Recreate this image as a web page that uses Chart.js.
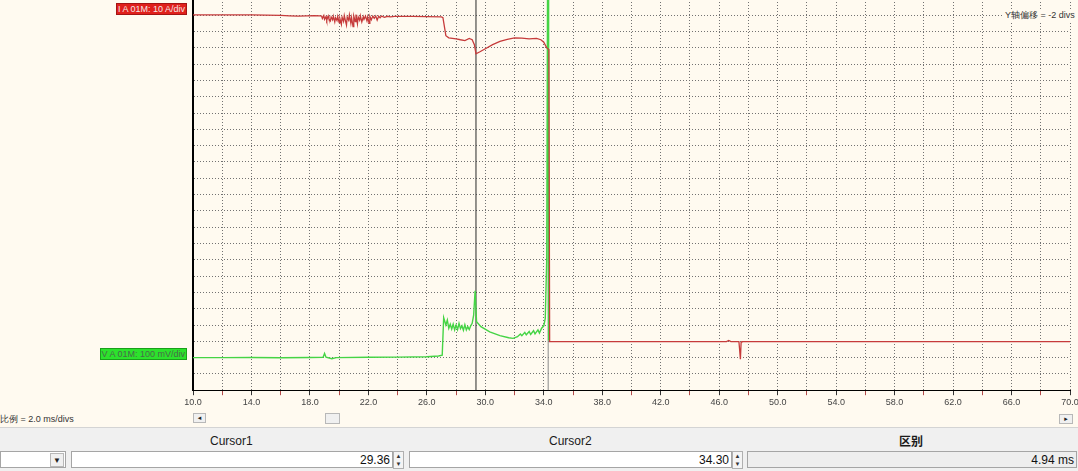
<!DOCTYPE html>
<html>
<head>
<meta charset="utf-8">
<script src="https://cdn.jsdelivr.net/npm/chart.js@4/dist/chart.umd.min.js"></script>
<style>
html,body{margin:0;padding:0;width:1078px;height:471px;overflow:hidden;background:#fffaf0;font-family:"Liberation Sans","DejaVu Sans",sans-serif;}
#wrap{position:absolute;left:0;top:-1px;width:1090px;height:413px;}
.abs{position:absolute;white-space:nowrap;}
.lblRed{left:116px;top:3px;width:68px;height:10px;background:#e0201c;border:1px solid #a31414;color:#f4e4e4;font-size:9px;line-height:10px;text-align:right;padding-right:1px;}
.lblGreen{left:100px;top:348px;width:84px;height:10px;background:#2ce22c;border:1px solid #1aa01a;color:#4a6a4a;font-size:9px;line-height:10px;text-align:right;padding-right:1px;}
.small{font-size:9px;color:#333;}
.panel{left:0;top:427px;width:1078px;height:44px;background:#f0f0f0;border-top:1px solid #d4d4d4;}
.hdr{font-size:12px;color:#1a1a1a;top:434px;}
.box{background:#fff;border:1px solid #a5a5a5;height:17px;top:451px;font-size:12px;line-height:17px;text-align:right;color:#111;box-sizing:border-box;padding-right:2px;}
.spin{top:451px;width:11px;height:18px;border:1px solid #b0b0b0;background:#f4f4f4;box-sizing:border-box;font-size:6px;line-height:8px;text-align:center;color:#333;}
.btn{background:#f0f0f0;border:1px solid #b8b8b8;box-sizing:border-box;font-size:7px;text-align:center;color:#222;}
</style>
</head>
<body>
<div id="wrap"><canvas id="c" width="1090" height="413"></canvas></div>

<div class="abs lblRed">I A 01M: 10 A/div</div>
<div class="abs lblGreen">V A 01M: 100 mV/div</div>
<div class="abs small" style="left:1004px;top:9px;background:#fffaf0;padding:0 1px;">Y轴偏移 = -2 divs</div>
<div class="abs small" style="left:0;top:413px;">比例 = 2.0 ms/divs</div>

<div class="abs btn" style="left:193px;top:413px;width:13px;height:10px;line-height:8px;">&#9666;</div>
<div class="abs btn" style="left:325px;top:413px;width:15px;height:11px;"></div>
<div class="abs btn" style="left:1059px;top:414px;width:14px;height:10px;line-height:8px;">&#9656;</div>

<div class="abs panel"></div>
<div class="abs hdr" style="left:210px;">Cursor1</div>
<div class="abs hdr" style="left:549px;">Cursor2</div>
<div class="abs hdr" style="left:899px;font-family:'Noto Sans CJK SC';font-weight:bold;top:432px;">区别</div>

<div class="abs box" style="left:0;width:66px;"></div>
<div class="abs btn" style="left:50px;top:453px;width:14px;height:14px;font-size:8px;line-height:14px;">&#9660;</div>
<div class="abs box" style="left:71px;width:322px;" id="c1"></div>
<div class="abs spin" style="left:393px;">&#9650;<br>&#9660;</div>
<div class="abs box" style="left:409px;width:323px;" id="c2"></div>
<div class="abs spin" style="left:732px;">&#9650;<br>&#9660;</div>
<div class="abs box" style="left:747px;width:330px;background:#eeeeee;" id="c3"></div>

<script>
// ---- data (time in ms, level in screen divisions from bottom) ----
const redTime = [10.0,12.0,14.0,16.0,16.6,17.2,17.8,18.3,18.7,
 18.8,18.85,18.95,19.0,19.1,19.15,19.25,19.3,19.4,19.45,19.55,19.6,19.7,19.75,19.85,19.9,20.0,20.05,20.15,20.2,20.3,20.35,20.45,20.5,20.55,20.65,20.7,20.8,20.85,20.95,21.0,21.1,21.15,21.25,21.3,21.4,21.45,21.55,21.65,21.7,21.8,21.9,21.95,22.05,22.1,22.2,22.3,22.4,22.5,22.6,22.7,22.8,22.9,23.1,23.3,23.5,23.8,24.0,25.0,26.0,
 27.0,27.1,27.3,27.5,28.0,28.3,28.6,28.9,29.1,29.25,29.36,29.6,30.0,30.5,31.0,31.5,32.0,32.5,33.0,33.5,33.8,34.0,34.2,34.35,34.4,
 40.0,46.5,46.65,46.8,47.35,47.4,47.45,47.5,47.55,55.0,70.0];
const redLevel = [23.02,23.03,23.02,23.0,22.97,22.95,22.97,22.98,22.96,
 22.95,22.80,22.98,22.75,22.92,22.70,22.96,22.78,22.66,22.90,22.72,22.95,22.60,22.85,22.68,22.93,22.55,22.80,22.45,22.88,22.62,22.98,22.58,22.40,22.90,22.70,23.02,22.50,22.85,22.30,22.95,22.62,23.05,22.48,22.90,22.70,22.97,22.60,22.92,22.75,22.95,22.66,22.90,22.50,22.93,22.72,22.95,22.82,22.96,22.70,22.94,22.85,22.95,22.88,22.94,22.90,22.94,22.93,22.93,22.92,
 22.90,22.85,21.75,21.62,21.56,21.50,21.45,21.58,21.50,21.20,20.64,20.75,20.95,21.20,21.40,21.53,21.62,21.60,21.55,21.58,21.50,21.35,21.0,20.9,2.98,
 2.98,2.98,3.05,2.98,2.98,2.45,1.90,2.95,2.98,2.98,2.98];

const greenTime = [10.0,12.0,14.0,16.0,18.0,18.9,19.0,19.1,19.5,19.8,22.0,24.0,26.0,26.8,27.05,
 27.15,27.3,27.4,27.5,27.6,27.7,27.8,27.9,28.0,28.1,28.2,28.3,28.4,28.5,28.6,28.7,28.8,28.9,29.0,29.1,29.2,29.3,
 29.4,29.7,30.3,31.0,31.6,31.9,32.2,32.4,32.5,32.7,32.8,33.0,33.1,33.3,33.4,33.6,33.7,33.85,34.0,34.1,34.2,34.26,34.29,34.33];
const greenLevel = [2.00,2.00,2.01,1.99,2.01,2.02,2.25,2.02,1.93,2.00,2.02,2.03,2.05,2.10,2.15,
 4.45,4.00,4.30,3.80,4.05,3.75,4.05,3.70,4.00,3.72,4.10,3.78,3.95,3.68,4.02,3.70,3.90,3.72,3.95,4.10,4.60,6.10,
 4.20,3.90,3.58,3.35,3.22,3.18,3.28,3.45,3.35,3.55,3.40,3.60,3.42,3.65,3.45,3.70,3.50,3.80,3.95,4.40,8.0,26.0,26.0,3.05];

const cursor1 = 29.36;
const cursor2 = 34.30;
const xTickLabels = ['10.0','14.0','18.0','22.0','26.0','30.0','34.0','38.0','42.0','46.0','50.0','54.0','58.0','62.0','66.0','70.0'];
const xMin = 10, xMax = 70, xStep = 2;
const yDivs = 24;

document.getElementById('c1').textContent = cursor1.toFixed(2);
document.getElementById('c2').textContent = cursor2.toFixed(2);
document.getElementById('c3').textContent = (cursor2 - cursor1).toFixed(2) + ' ms';

const pts = (xs, ys) => xs.map((x, i) => ({x: x, y: ys[i]}));
const labelFor = v => {
  const s = v.toFixed(1);
  return xTickLabels.includes(s) ? s : '';
};

new Chart(document.getElementById('c'), {
  type: 'line',
  data: {
    datasets: [
      {data: pts(redTime, redLevel), borderColor: '#c63b3b', borderWidth: 1.3, pointRadius: 0, tension: 0},
      {data: pts(greenTime, greenLevel), borderColor: '#45d445', borderWidth: 1.4, pointRadius: 0, tension: 0},
      {data: [{x: cursor1, y: 0}, {x: cursor1, y: yDivs}], borderColor: '#2a2a2a', borderWidth: 1, pointRadius: 0},
      {data: [{x: cursor2, y: 0}, {x: cursor2, y: yDivs}], borderColor: '#8a8a8a', borderWidth: 1, pointRadius: 0}
    ]
  },
  options: {
    responsive: false,
    animation: false,
    plugins: {legend: {display: false}, tooltip: {enabled: false}},
    layout: {padding: {left: 193, right: 20, top: 0, bottom: 2}},
    scales: {
      x: {
        type: 'linear', min: xMin, max: xMax,
        ticks: {stepSize: xStep, autoSkip: false, maxRotation: 0, padding: 2, color: '#444',
                font: {family: 'Liberation Sans', size: 9}, callback: v => labelFor(v)},
        grid: {color: '#727272', lineWidth: 1, tickLength: 5,
               tickColor: c => labelFor(c.tick.value) ? '#333' : '#b34a4a'},
        border: {display: true, color: '#000', width: 1, dash: [1, 2]}
      },
      y: {
        min: 0, max: yDivs,
        ticks: {display: false, stepSize: 1},
        grid: {color: '#727272', lineWidth: 1, drawTicks: false},
        border: {display: true, color: '#000', width: 2, dash: [1, 2]}
      }
    }
  }
});
</script>
</body>
</html>
